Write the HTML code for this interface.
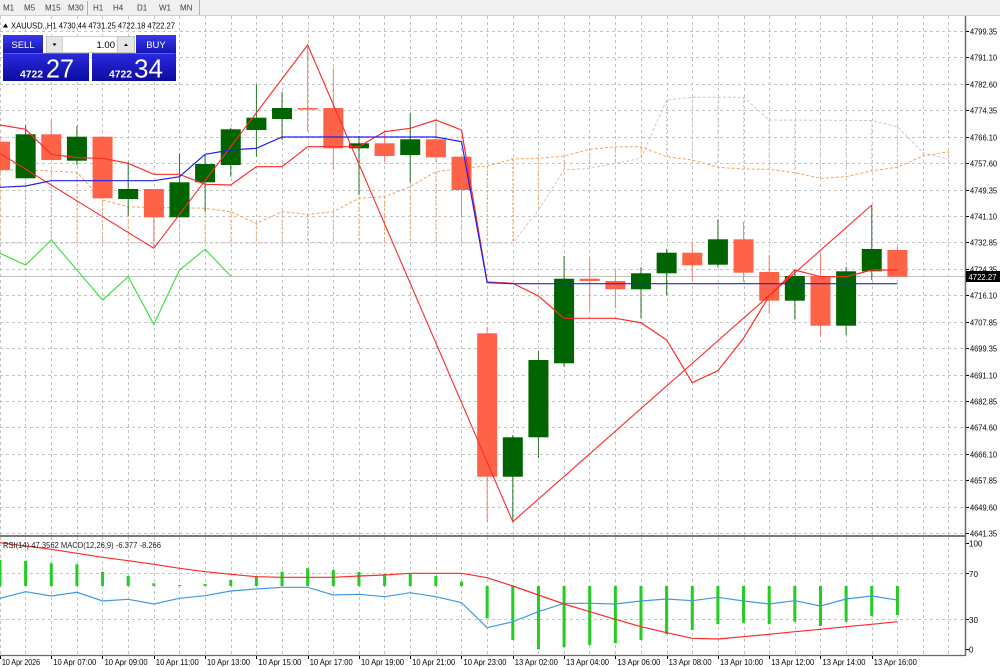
<!DOCTYPE html>
<html><head><meta charset="utf-8"><style>
html,body{margin:0;padding:0;background:#fff;}
svg{display:block;font-family:"Liberation Sans",Arial,sans-serif;}
</style></head><body>
<svg width="1000" height="667" viewBox="0 0 1000 667" xmlns="http://www.w3.org/2000/svg">
<defs>
<linearGradient id="bl" x1="0" y1="0" x2="0" y2="1"><stop offset="0" stop-color="#3a3aee"/><stop offset="1" stop-color="#1212b0"/></linearGradient>
<linearGradient id="bl2" x1="0" y1="0" x2="0" y2="1"><stop offset="0" stop-color="#2a2ae0"/><stop offset="1" stop-color="#0c0ca0"/></linearGradient>
<clipPath id="mc"><rect x="0" y="16" width="965" height="519"/></clipPath>
<clipPath id="sc"><rect x="0" y="537" width="965" height="118"/></clipPath>
</defs>
<rect width="1000" height="667" fill="#fff"/>

<!-- toolbar -->
<rect x="0" y="0" width="1000" height="15" fill="#f0f0f0"/>
<line x1="0" y1="15.5" x2="1000" y2="15.5" stroke="#d0d0d0"/>
<line x1="87.5" y1="1" x2="87.5" y2="15" stroke="#b0b0b0"/>
<line x1="199.5" y1="0" x2="199.5" y2="15" stroke="#b0b0b0"/>
<g font-size="8" fill="#404040">
<text x="3" y="10.5">M1</text><text x="24" y="10.5">M5</text><text x="45" y="10.5">M15</text><text x="68" y="10.5">M30</text>
<text x="93" y="10.5">H1</text><text x="113" y="10.5">H4</text><text x="137" y="10.5">D1</text><text x="159" y="10.5">W1</text><text x="180" y="10.5">MN</text>
</g>

<!-- main grid -->
<g stroke="#c4c4c4" stroke-width="1" stroke-dasharray="3,3" fill="none">
<path d="M0.5 16V535M25.5 16V535M51.5 16V535M77.5 16V535M102.5 16V535M128.5 16V535M154.5 16V535M179.5 16V535M205.5 16V535M231.5 16V535M256.5 16V535M282.5 16V535M308.5 16V535M333.5 16V535M359.5 16V535M384.5 16V535M410.5 16V535M436.5 16V535M461.5 16V535M487.5 16V535M513.5 16V535M538.5 16V535M564.5 16V535M589.5 16V535M615.5 16V535M641.5 16V535M667.5 16V535M692.5 16V535M718.5 16V535M744.5 16V535M769.5 16V535M795.5 16V535M820.5 16V535M846.5 16V535M872.5 16V535M897.5 16V535M923.5 16V535M948.5 16V535"/>
<path d="M0 31.5H965M0 57.5H965M0 84.5H965M0 110.5H965M0 137.5H965M0 163.5H965M0 190.5H965M0 216.5H965M0 242.5H965M0 269.5H965M0 295.5H965M0 322.5H965M0 348.5H965M0 375.5H965M0 401.5H965M0 427.5H965M0 454.5H965M0 480.5H965M0 507.5H965M0 533.5H965"/>
<path d="M0.5 537V655M25.5 537V655M51.5 537V655M77.5 537V655M102.5 537V655M128.5 537V655M154.5 537V655M179.5 537V655M205.5 537V655M231.5 537V655M256.5 537V655M282.5 537V655M308.5 537V655M333.5 537V655M359.5 537V655M384.5 537V655M410.5 537V655M436.5 537V655M461.5 537V655M487.5 537V655M513.5 537V655M538.5 537V655M564.5 537V655M589.5 537V655M615.5 537V655M641.5 537V655M667.5 537V655M692.5 537V655M718.5 537V655M744.5 537V655M769.5 537V655M795.5 537V655M820.5 537V655M846.5 537V655M872.5 537V655M897.5 537V655M923.5 537V655M948.5 537V655"/>
<path d="M0 573.5H965M0 619.5H965"/>
</g>

<g clip-path="url(#mc)">
<!-- bid line -->
<line x1="0" y1="276.5" x2="965" y2="276.5" stroke="#c0c0c0"/>

<!-- cloud histogram -->
<g stroke-width="1" stroke-dasharray="2,2" fill="none">
<path stroke="#f4a460" d="M0 170V243M25.64 170V243M51.28 171V243M76.92 172.3V243M102.56 200V243M128.2 206.7V243M153.84 207.7V243M179.48 207.7V243M205.12 208.3V243M230.76 211.7V243M256.4 223.3V243M282.04 211.7V243M307.68 214.3V243M333.32 211.7V243M358.96 198.3V243M384.6 196.7V243M410.24 186.7V243M435.88 171.7V243M461.52 168.3V243M487.16 166V243M512.8 159V243M538.44 158.3V210M564.08 156V170M589.72 149.3V168.3M615.36 146.7V163.3M641 146.7V158.3M948.68 151.7V159.3"/>
<path stroke="#d8bfd8" d="M666.64 100V156.7M692.28 97.3V160M717.92 97.3V167.3M743.56 97.3V169M769.2 120V169.3M794.84 120V172.7M820.48 120V178.3M846.12 120V176.7M871.76 120.5V170.7M897.4 126.7V167.3M923.04 152.7V156"/>
</g>
<path fill="none" stroke="#d8bfd8" stroke-width="1" stroke-dasharray="3,2" d="M0 243L512.8 243L538.44 210L564.08 170L589.72 168.3L615.36 163.3L641 158.3L666.64 100L692.28 97.3L743.56 97.3L769.2 120L871.76 120.5L897.4 126.7L923.04 152.7L948.68 159.3"/>
<path fill="none" stroke="#f4a460" stroke-width="1" stroke-dasharray="3,2" d="M0 170L25.64 170L51.28 171L76.92 172.3L102.56 200L128.2 206.7L153.84 207.7L179.48 207.7L205.12 208.3L230.76 211.7L256.4 223.3L282.04 211.7L307.68 214.3L333.32 211.7L358.96 198.3L384.6 196.7L410.24 186.7L435.88 171.7L461.52 168.3L487.16 166L512.8 159L538.44 158.3L564.08 156L589.72 149.3L615.36 146.7L641 146.7L666.64 156.7L692.28 160L717.92 167.3L743.56 169L769.2 169.3L794.84 172.7L820.48 178.3L846.12 176.7L871.76 170.7L897.4 167.3L923.04 156L948.68 151.7"/>

<!-- wicks -->
<path fill="none" stroke="#ff7f6a" stroke-width="1" d="M0 136V172M51.28 120V160M102.56 136.7V198.3M153.84 189V248.3M307.68 45V131.7M333.32 67.7V170M384.6 130V161.7M435.88 121.7V161.7M461.52 156.7V218M487.16 326.7V521.7M589.72 257.3V311M615.36 270V308.3M692.28 241.7V280.7M743.56 221.7V281.7M769.2 255V314M820.48 253.3V336.7M897.4 246V276.7"/>
<path fill="none" stroke="#2a7a2a" stroke-width="1" d="M25.64 125V178.3M76.92 125.7V165M128.2 162V215.7M179.48 153.3V217.3M205.12 155V211.7M230.76 127.7V176.7M256.4 84.3V156.7M282.04 92V140M358.96 136V195M410.24 113.3V183.3M512.8 435V521.7M538.44 350.7V458.3M564.08 256V366.7M641 267.3V318.3M666.64 249V295M717.92 219.3V267.3M794.84 269.3V319.3M846.12 266.7V335M871.76 205V280"/>
<!-- bodies -->
<g fill="#ff6347">
<rect x="-10" y="141.7" width="20" height="28.3"/>
<rect x="41.28" y="134.3" width="20" height="25.7"/>
<rect x="92.56" y="136.7" width="20" height="61.6"/>
<rect x="143.84" y="189" width="20" height="28.3"/>
<rect x="297.68" y="108" width="20" height="1.6"/>
<rect x="323.32" y="108" width="20" height="40.3"/>
<rect x="374.6" y="143.3" width="20" height="12.7"/>
<rect x="425.88" y="139.3" width="20" height="18"/>
<rect x="451.52" y="156.7" width="20" height="33.3"/>
<rect x="477.16" y="333.3" width="20" height="143.4"/>
<rect x="579.72" y="278.7" width="20" height="2.3"/>
<rect x="605.36" y="281" width="20" height="8.3"/>
<rect x="682.28" y="252.7" width="20" height="12.6"/>
<rect x="733.56" y="239.3" width="20" height="33.4"/>
<rect x="759.2" y="272" width="20" height="28.7"/>
<rect x="810.48" y="276" width="20" height="49.7"/>
<rect x="887.4" y="250" width="20" height="26.7"/>
</g>
<g fill="#006400">
<rect x="15.64" y="134.3" width="20" height="44"/>
<rect x="66.92" y="136.7" width="20" height="24"/>
<rect x="118.2" y="189" width="20" height="10"/>
<rect x="169.48" y="182.3" width="20" height="35"/>
<rect x="195.12" y="164" width="20" height="18.3"/>
<rect x="220.76" y="129.3" width="20" height="35.7"/>
<rect x="246.4" y="117.7" width="20" height="12.3"/>
<rect x="272.04" y="108" width="20" height="11"/>
<rect x="348.96" y="143.3" width="20" height="5"/>
<rect x="400.24" y="139.3" width="20" height="15.7"/>
<rect x="502.8" y="437.3" width="20" height="39.4"/>
<rect x="528.44" y="360" width="20" height="77.3"/>
<rect x="554.08" y="278.7" width="20" height="84.6"/>
<rect x="631" y="273.3" width="20" height="16"/>
<rect x="656.64" y="252.7" width="20" height="20.6"/>
<rect x="707.92" y="239.3" width="20" height="25.4"/>
<rect x="784.84" y="276" width="20" height="24.7"/>
<rect x="836.12" y="271.3" width="20" height="54.4"/>
<rect x="861.76" y="249" width="20" height="22.3"/>
</g>

<!-- indicator lines -->
<path fill="none" stroke="#44e044" stroke-width="1.2" d="M0 253.3L25.64 265L51.28 240L76.92 270L102.56 300L128.2 276.7L153.84 324.3L179.48 270L205.12 249.3L230.76 276"/>
<path fill="none" stroke="#ff2a2a" stroke-width="1.1" d="M-20 141L153.84 248.3L307.68 45L512.8 521.7L871.76 205"/>
<path fill="none" stroke="#ff2a2a" stroke-width="1.2" d="M0 125L25.64 129.3L51.28 154.3L76.92 157.7L102.56 158.3L128.2 163.3L153.84 174.3L179.48 174.3L205.12 184.3L230.76 185L256.4 166.7L282.04 166.7L307.68 146.7L333.32 146.7L358.96 146.7L384.6 131.7L410.24 128.3L435.88 120L461.52 130L487.16 282L512.8 283.3L538.44 296L564.08 318.3L589.72 318.3L615.36 318.3L641 322.7L666.64 340L692.28 382.7L717.92 370.7L743.56 338.3L769.2 296L794.84 270L820.48 276.7L846.12 276.7L871.76 270L897.4 270"/>
<path fill="none" stroke="#2020ee" stroke-width="1.2" d="M0 187.3L25.64 186L51.28 180.7L153.84 180.7L179.48 176.7L205.12 154.3L230.76 150L256.4 148.3L282.04 137L435.88 137L461.52 141.7L487.16 282.7L512.8 283.7L897.4 283.7"/>
</g>

<!-- sub window -->
<g clip-path="url(#sc)">
<path fill="none" stroke="#22cc22" stroke-width="3" d="M0 586V560M25.64 586V560.7M51.28 586V563.3M76.92 586V564.3M102.56 586V571.7M128.2 586V576M153.84 586V583.3M179.48 586V585M205.12 586V584M230.76 586V580M256.4 586V576M282.04 586V571.7M307.68 586V568.3M333.32 586V570M358.96 586V571.7M384.6 586V574M410.24 586V574M435.88 586V576M461.52 586V581.7M487.16 586V618.3M512.8 586V640M538.44 586V649.3M564.08 586V647.3M589.72 586V645M615.36 586V643.3M641 586V640M666.64 586V634.3M692.28 586V630M717.92 586V624.3M743.56 586V622.7M769.2 586V624.3M794.84 586V621.7M820.48 586V626M846.12 586V621.7M871.76 586V616M897.4 586V615"/>
<path fill="none" stroke="#3f9ae6" stroke-width="1.2" d="M0 598.3L25.64 591.7L51.28 596L76.92 592.3L102.56 601L128.2 599.3L153.84 604L179.48 598.3L205.12 595.7L230.76 591L256.4 589L282.04 587.3L307.68 587.3L333.32 595L358.96 594.3L384.6 596.7L410.24 592.7L435.88 596.7L461.52 602.7L487.16 627.7L512.8 621.7L538.44 611.7L564.08 603.3L589.72 603.3L615.36 604L641 601L666.64 599L692.28 600.7L717.92 597.3L743.56 601L769.2 604L794.84 600.7L820.48 606L846.12 599L871.76 596L897.4 600"/>
<path fill="none" stroke="#ff2a2a" stroke-width="1.2" d="M0 542.7L25.64 546L51.28 549.3L76.92 553.3L102.56 557.3L128.2 560.7L153.84 564.3L179.48 568.3L205.12 571.7L230.76 574.3L256.4 576.7L282.04 577.3L333.32 577.3L358.96 576L384.6 575L410.24 573.3L461.52 573.3L487.16 577.7L512.8 586L538.44 595L564.08 604L589.72 611.7L615.36 619.3L641 626.7L666.64 632.7L692.28 638.3L717.92 639L743.56 636.7L769.2 634.3L794.84 631.7L820.48 629.3L846.12 626.7L871.76 624.3L897.4 621.7"/>
</g>
<text x="3" y="548" font-size="8" fill="#222" textLength="158" lengthAdjust="spacingAndGlyphs">RSI(14) 47.3562  MACD(12,26,9) -6.377 -8.266</text>

<!-- frames -->
<rect x="0" y="535" width="966" height="2" fill="#7a7a7a"/>
<line x1="0" y1="655.5" x2="966" y2="655.5" stroke="#6a6a6a" stroke-width="1.2"/>
<line x1="965.5" y1="16" x2="965.5" y2="656" stroke="#6a6a6a" stroke-width="1.5"/>

<!-- price axis -->
<g stroke="#000" stroke-width="1">
<path d="M966 31.5h3M966 57.5h3M966 84.5h3M966 110.5h3M966 137.5h3M966 163.5h3M966 190.5h3M966 216.5h3M966 242.5h3M966 269.5h3M966 295.5h3M966 322.5h3M966 348.5h3M966 375.5h3M966 401.5h3M966 427.5h3M966 454.5h3M966 480.5h3M966 507.5h3M966 533.5h3M966 543.5h3M966 573.5h3M966 619.5h3M966 649.5h3"/>
<path d="M0.5 656v3M51.5 656v3M102.5 656v3M154.5 656v3M205.5 656v3M256.5 656v3M308.5 656v3M359.5 656v3M410.5 656v3M461.5 656v3M513.5 656v3M564.5 656v3M615.5 656v3M667.5 656v3M718.5 656v3M769.5 656v3M820.5 656v3M872.5 656v3"/>
</g>
<g font-size="8" fill="#000">
<text x="970" y="34.5" textLength="27" lengthAdjust="spacingAndGlyphs">4799.35</text>
<text x="970" y="60.5" textLength="27" lengthAdjust="spacingAndGlyphs">4791.10</text>
<text x="970" y="87.5" textLength="27" lengthAdjust="spacingAndGlyphs">4782.60</text>
<text x="970" y="113.5" textLength="27" lengthAdjust="spacingAndGlyphs">4774.35</text>
<text x="970" y="140.5" textLength="27" lengthAdjust="spacingAndGlyphs">4766.10</text>
<text x="970" y="166.5" textLength="27" lengthAdjust="spacingAndGlyphs">4757.60</text>
<text x="970" y="193.5" textLength="27" lengthAdjust="spacingAndGlyphs">4749.35</text>
<text x="970" y="219.5" textLength="27" lengthAdjust="spacingAndGlyphs">4741.10</text>
<text x="970" y="245.5" textLength="27" lengthAdjust="spacingAndGlyphs">4732.85</text>
<text x="970" y="272.5" textLength="27" lengthAdjust="spacingAndGlyphs">4724.35</text>
<text x="970" y="298.5" textLength="27" lengthAdjust="spacingAndGlyphs">4716.10</text>
<text x="970" y="325.5" textLength="27" lengthAdjust="spacingAndGlyphs">4707.85</text>
<text x="970" y="351.5" textLength="27" lengthAdjust="spacingAndGlyphs">4699.35</text>
<text x="970" y="378.5" textLength="27" lengthAdjust="spacingAndGlyphs">4691.10</text>
<text x="970" y="404.5" textLength="27" lengthAdjust="spacingAndGlyphs">4682.85</text>
<text x="970" y="430.5" textLength="27" lengthAdjust="spacingAndGlyphs">4674.60</text>
<text x="970" y="457.5" textLength="27" lengthAdjust="spacingAndGlyphs">4666.10</text>
<text x="970" y="483.5" textLength="27" lengthAdjust="spacingAndGlyphs">4657.85</text>
<text x="970" y="510.5" textLength="27" lengthAdjust="spacingAndGlyphs">4649.60</text>
<text x="970" y="536.5" textLength="27" lengthAdjust="spacingAndGlyphs">4641.35</text>
<text x="969" y="546.5">100</text>
<text x="969" y="577">70</text>
<text x="969" y="623">30</text>
<text x="969" y="652.5">0</text>
</g>
<rect x="966" y="271" width="34" height="11" fill="#000"/>
<text x="968.5" y="280" font-size="8" fill="#fff" textLength="28" lengthAdjust="spacingAndGlyphs">4722.27</text>

<!-- time axis -->
<g font-size="8" fill="#000">
<text x="2" y="665" textLength="38" lengthAdjust="spacingAndGlyphs">10 Apr 2026</text>
<text x="53.3" y="665" textLength="43" lengthAdjust="spacingAndGlyphs">10 Apr 07:00</text>
<text x="104.6" y="665" textLength="43" lengthAdjust="spacingAndGlyphs">10 Apr 09:00</text>
<text x="155.8" y="665" textLength="43" lengthAdjust="spacingAndGlyphs">10 Apr 11:00</text>
<text x="207" y="665" textLength="43" lengthAdjust="spacingAndGlyphs">10 Apr 13:00</text>
<text x="258.4" y="665" textLength="43" lengthAdjust="spacingAndGlyphs">10 Apr 15:00</text>
<text x="309.7" y="665" textLength="43" lengthAdjust="spacingAndGlyphs">10 Apr 17:00</text>
<text x="361" y="665" textLength="43" lengthAdjust="spacingAndGlyphs">10 Apr 19:00</text>
<text x="412.2" y="665" textLength="43" lengthAdjust="spacingAndGlyphs">10 Apr 21:00</text>
<text x="463.5" y="665" textLength="43" lengthAdjust="spacingAndGlyphs">10 Apr 23:00</text>
<text x="514.8" y="665" textLength="43" lengthAdjust="spacingAndGlyphs">13 Apr 02:00</text>
<text x="566" y="665" textLength="43" lengthAdjust="spacingAndGlyphs">13 Apr 04:00</text>
<text x="617.4" y="665" textLength="43" lengthAdjust="spacingAndGlyphs">13 Apr 06:00</text>
<text x="668.6" y="665" textLength="43" lengthAdjust="spacingAndGlyphs">13 Apr 08:00</text>
<text x="720" y="665" textLength="43" lengthAdjust="spacingAndGlyphs">13 Apr 10:00</text>
<text x="771.2" y="665" textLength="43" lengthAdjust="spacingAndGlyphs">13 Apr 12:00</text>
<text x="822.5" y="665" textLength="43" lengthAdjust="spacingAndGlyphs">13 Apr 14:00</text>
<text x="873.8" y="665" textLength="43" lengthAdjust="spacingAndGlyphs">13 Apr 16:00</text>
</g>

<!-- title -->
<path d="M3 27.5L5.5 23.5L8 27.5Z" fill="#000"/>
<text x="11" y="28.3" font-size="8" fill="#000" textLength="164" lengthAdjust="spacingAndGlyphs">XAUUSD.,H1  4730.44 4731.25 4722.18 4722.27</text>

<!-- trade panel -->
<rect x="3" y="35" width="40" height="19" fill="url(#bl)"/>
<rect x="3" y="53" width="86" height="28" fill="url(#bl2)"/>
<rect x="136" y="35" width="40" height="19" fill="url(#bl)"/>
<rect x="92" y="53" width="84" height="28" fill="url(#bl2)"/>
<line x1="4" y1="53.5" x2="88" y2="53.5" stroke="#5a5af2"/>
<line x1="93" y1="53.5" x2="175" y2="53.5" stroke="#5a5af2"/>
<rect x="46.5" y="36.5" width="16" height="16" fill="#e6e6e6" stroke="#c4c4c4"/>
<rect x="62.5" y="36.5" width="55" height="16" fill="#fff" stroke="#d0d0d0"/>
<rect x="117.5" y="36.5" width="17" height="16" fill="#e6e6e6" stroke="#c4c4c4"/>
<path d="M52.5 43.5h4l-2 2.5z" fill="#000"/>
<path d="M124 46h4l-2-2.5z" fill="#000"/>
<text x="115" y="48" font-size="9.5" fill="#000" text-anchor="end">1.00</text>
<text x="23" y="48" font-size="9.5" fill="#fff" text-anchor="middle">SELL</text>
<text x="156" y="48" font-size="9.5" fill="#fff" text-anchor="middle">BUY</text>
<text x="20" y="77.5" font-size="10" font-weight="bold" fill="#fff" textLength="23" lengthAdjust="spacingAndGlyphs">4722</text>
<text x="46" y="77.5" font-size="26" fill="#fff" textLength="28" lengthAdjust="spacingAndGlyphs">27</text>
<text x="109" y="77.5" font-size="10" font-weight="bold" fill="#fff" textLength="23" lengthAdjust="spacingAndGlyphs">4722</text>
<text x="134" y="77.5" font-size="26" fill="#fff" textLength="29" lengthAdjust="spacingAndGlyphs">34</text>
</svg>
</body></html>
